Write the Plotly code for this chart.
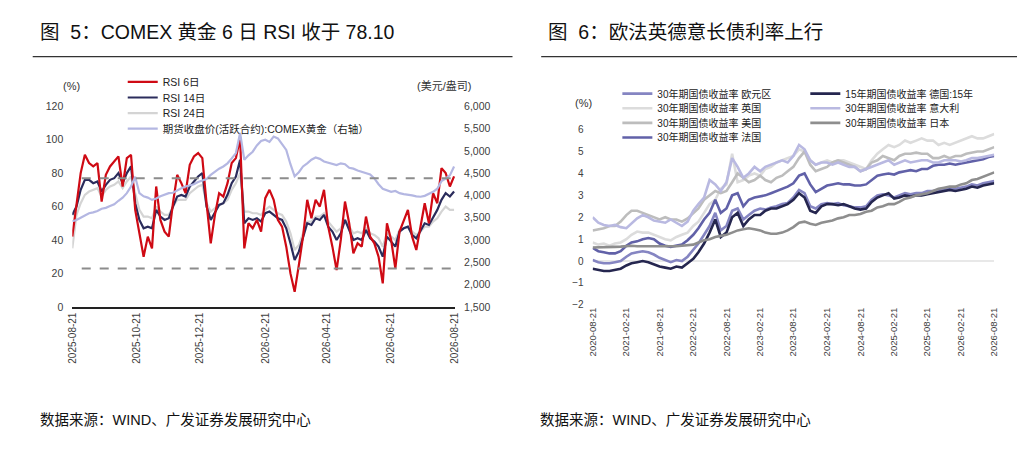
import pandas as pd
import plotly.graph_objects as go

FONT = "Liberation Sans, Arial, Noto Sans CJK SC, sans-serif"

# ---------------- Left chart data (figure 5) ----------------
rsi_dates = [d.strftime("%Y-%m-%d") for d in pd.date_range("2025-08-21", periods=92, freq="4D")]

rsi6 = [42, 62, 80, 91, 86, 84, 86, 63, 79, 84, 87, 90, 72, 89, 91, 58, 44, 30, 42, 35,
        72, 52, 45, 42, 62, 79, 74, 68, 85, 90, 92, 89, 62, 38, 55, 68, 66, 74, 86, 89,
        101, 35, 50, 47, 52, 45, 65, 70, 64, 52, 48, 36, 20, 9, 25, 42, 64, 53, 64, 60,
        70, 48, 36, 22, 40, 63, 50, 32, 38, 36, 54, 42, 38, 30, 14, 50, 40, 23, 45, 52,
        58, 42, 34, 48, 62, 50, 68, 62, 83, 80, 72, 78.1]

rsi14 = [55, 60, 70, 76, 76, 74, 75, 69, 73, 76, 77, 80, 74, 80, 84, 62, 52, 47, 48, 47,
         58, 54, 52, 53, 60, 66, 67, 66, 72, 75, 78, 80, 60, 52, 57, 61, 62, 67, 74, 78,
         88, 50, 53, 52, 53, 51, 56, 57, 55, 53, 52, 47, 38, 28, 33, 42, 50, 49, 53, 52,
         55, 48, 45, 40, 44, 52, 46, 40, 41, 40, 46, 41, 39, 36, 30, 42, 39, 36, 45, 47,
         48, 43, 41, 46, 50, 49, 54, 58, 64, 68, 66, 69]

rsi24 = [35, 55, 62, 67, 69, 70, 71, 66, 70, 72, 73, 75, 71, 75, 78, 68, 58, 54, 54, 53,
         60, 57, 55, 55, 60, 64, 64, 64, 68, 70, 72, 73, 62, 57, 59, 61, 62, 64, 70, 74,
         80, 57, 57, 56, 56, 55, 58, 60, 58, 56, 55, 51, 44, 34, 37, 44, 51, 51, 54, 54,
         56, 51, 48, 45, 47, 52, 48, 44, 45, 44, 47, 44, 43, 41, 36, 44, 42, 40, 46, 47,
         48, 45, 43, 45, 48, 48, 51, 53, 57, 60, 58, 58]

gold = [3420, 3450, 3500, 3560, 3600, 3620, 3650, 3700, 3720, 3760, 3800, 3880, 3950, 4050,
        4200, 4420, 4050, 3980, 3950, 3900, 3930, 3980, 4020, 4050, 4060, 4120, 4160, 4200,
        4230, 4250, 4300, 4330, 4370, 4460, 4540, 4600, 4650, 4720, 4830, 4950, 5400, 4800,
        4900, 4980, 5120, 5220, 5250, 5200, 5320, 5280, 5150, 5020, 4700, 4430, 4520, 4650,
        4720, 4800, 4850, 4820, 4760, 4730, 4700, 4680, 4720, 4700, 4620, 4600, 4560, 4530,
        4500, 4470, 4380, 4250, 4150, 4120, 4080, 4100, 4050, 4030, 4020, 4000, 3980, 3970,
        3990, 4030, 4080, 4150, 4320, 4380, 4450, 4650]

overbought = 77
oversold = 23
left_ticks = ["2025-08-21", "2025-10-21", "2025-12-21", "2026-02-21",
              "2026-04-21", "2026-06-21", "2026-08-21"]

# ---------------- Right chart data (figure 6) ----------------
bond_dates = [d.strftime("%Y-%m-%d") for d in
              pd.date_range("2020-08-21", periods=73, freq=pd.DateOffset(months=1))]

euro30 = [0.05, -0.05, -0.1, -0.1, -0.05, 0.0, 0.2, 0.35, 0.4, 0.45, 0.4, 0.3, 0.15, 0.05,
          -0.05, 0.05, 0.0, 0.2, 0.5, 0.8, 1.2, 1.6, 2.2, 1.4, 1.6, 2.3, 2.4, 1.9, 2.1, 2.3,
          2.4, 2.35, 2.45, 2.5, 2.6, 2.65, 2.9, 3.25, 3.1, 2.5, 2.4, 2.6, 2.65, 2.6, 2.65,
          2.55, 2.5, 2.45, 2.45, 2.5, 2.8, 3.0, 3.05, 3.0, 2.9, 3.0, 3.1, 3.05, 3.1, 3.1,
          3.2, 3.2, 3.25, 3.3, 3.35, 3.3, 3.35, 3.4, 3.5, 3.45, 3.55, 3.6, 3.65]

uk30 = [0.85, 0.75, 0.8, 0.7, 0.8, 0.85, 1.0, 1.2, 1.35, 1.3, 1.3, 1.2, 1.1, 1.0, 0.95,
        1.1, 1.2, 1.3, 1.6, 1.8, 2.2, 2.6, 2.8, 3.3, 3.5, 4.9, 3.6, 3.7, 3.9, 4.0, 3.9,
        4.2, 4.3, 4.5, 4.6, 4.7, 4.8, 5.1, 5.0, 4.6, 4.4, 4.5, 4.6, 4.5, 4.6, 4.6, 4.5,
        4.4, 4.3, 4.2, 4.6, 4.9, 5.1, 5.3, 5.2, 5.3, 5.5, 5.4, 5.5, 5.6, 5.5, 5.5, 5.3,
        5.4, 5.3, 5.4, 5.5, 5.6, 5.7, 5.6, 5.6, 5.7, 5.8]

us30 = [1.4, 1.45, 1.5, 1.6, 1.6, 1.8, 2.1, 2.3, 2.3, 2.2, 2.1, 2.0, 1.9, 2.0, 1.9, 1.9,
        1.8, 1.95, 2.2, 2.4, 2.8, 3.0, 3.2, 3.1, 3.2, 3.6, 4.0, 3.8, 3.6, 3.7, 3.9, 3.7,
        3.6, 3.8, 3.9, 4.1, 4.3, 4.7, 5.0, 4.4, 4.1, 4.2, 4.3, 4.5, 4.6, 4.5, 4.4, 4.3,
        4.1, 4.2, 4.5, 4.6, 4.8, 4.7, 4.6, 4.8, 4.9, 4.9, 4.95, 4.9, 4.9, 4.7, 4.7, 4.8,
        4.7, 4.8, 4.8, 4.9, 4.95, 5.0, 5.0, 5.1, 5.2]

fr30 = [0.6, 0.45, 0.4, 0.35, 0.35, 0.45, 0.7, 0.85, 0.9, 1.0, 1.05, 1.0, 0.8, 0.7, 0.65,
        0.7, 0.75, 0.95, 1.2, 1.5, 1.9, 2.2, 2.8, 2.2, 2.4, 3.0, 3.1, 2.5, 2.8, 2.9, 2.95,
        3.0, 3.1, 3.2, 3.3, 3.4, 3.55, 3.9, 4.0, 3.5, 3.15, 3.3, 3.45, 3.5, 3.55, 3.5, 3.5,
        3.45, 3.45, 3.5, 3.7, 3.9, 3.95, 4.0, 3.95, 4.05, 4.1, 4.15, 4.1, 4.2, 4.2, 4.35,
        4.4, 4.4, 4.45, 4.4, 4.45, 4.5, 4.55, 4.6, 4.65, 4.75, 4.8]

de15 = [-0.35, -0.4, -0.45, -0.45, -0.4, -0.35, -0.2, -0.1, -0.05, 0.0, -0.05, -0.15,
        -0.25, -0.3, -0.35, -0.25, -0.3, -0.1, 0.1, 0.4, 0.8, 1.3, 1.9, 1.1, 1.3, 2.0, 2.2,
        1.6, 1.9, 2.1, 2.1, 2.3, 2.4, 2.4, 2.5, 2.6, 2.8, 3.1, 2.9, 2.3, 2.2, 2.5, 2.6, 2.6,
        2.55, 2.6, 2.5, 2.4, 2.35, 2.4, 2.7, 2.9, 3.0, 3.1, 2.85, 2.9, 3.0, 2.95, 3.0, 3.0,
        3.05, 3.1, 3.15, 3.2, 3.25, 3.2, 3.25, 3.3, 3.4, 3.35, 3.45, 3.5, 3.55]

it30 = [2.0, 1.75, 1.65, 1.6, 1.65, 1.55, 1.5, 1.7, 1.95, 2.1, 2.0, 1.85, 1.8, 1.75, 1.9,
        1.75, 1.6, 1.8, 2.3, 2.6, 2.9, 3.7, 3.5, 3.2, 3.6, 4.7, 4.3, 3.8, 4.0, 4.3, 4.1,
        4.3, 4.4, 4.5, 4.6, 4.5, 4.8, 5.3, 5.1, 4.6, 4.4, 4.5, 4.5, 4.4, 4.5, 4.4, 4.3,
        4.3, 4.1, 4.2, 4.3, 4.4, 4.5, 4.6, 4.4, 4.5, 4.6, 4.5, 4.55, 4.6, 4.6, 4.5, 4.5,
        4.6, 4.6, 4.6, 4.55, 4.6, 4.7, 4.7, 4.75, 4.8, 4.85]

jp30 = [0.62, 0.62, 0.63, 0.65, 0.65, 0.66, 0.68, 0.7, 0.68, 0.68, 0.68, 0.67, 0.66, 0.66,
        0.67, 0.68, 0.7, 0.72, 0.75, 0.85, 0.95, 1.0, 1.1, 1.15, 1.2, 1.3, 1.4, 1.45, 1.5,
        1.45, 1.4, 1.3, 1.25, 1.25, 1.3, 1.4, 1.55, 1.75, 1.8, 1.7, 1.65, 1.75, 1.8, 1.85,
        1.95, 2.0, 2.1, 2.1, 2.15, 2.25, 2.3, 2.45, 2.5, 2.6, 2.6, 2.7, 2.85, 2.9, 3.0,
        3.05, 3.1, 3.2, 3.3, 3.35, 3.4, 3.4, 3.5, 3.55, 3.7, 3.75, 3.85, 3.95, 4.05]

right_ticks = ["2020-08-21", "2021-02-21", "2021-08-21", "2022-02-21", "2022-08-21",
               "2023-02-21", "2023-08-21", "2024-02-21", "2024-08-21", "2025-02-21",
               "2025-08-21", "2026-02-21", "2026-08-21"]

W, H = 1024, 454
def px(x):
    return x / W
def py(y):
    return 1 - y / H

fig = go.Figure()

# ---- left traces (each legend entry in its own single-item legend, placed like the reference) ----
left_specs = [
    ("期货收盘价(活跃合约):COMEX黄金（右轴）", gold, "#b4b7e2", "y2", 126),
    ("RSI 24日", rsi24, "#d4d4d4", "y", 110),
    ("RSI 14日", rsi14, "#2b2c5c", "y", 94),
    ("RSI 6日", rsi6, "#cf0a14", "y", 78),
]
legend_layout = {}
leg_i = 1
for name, vals, col, yax, ly in left_specs:
    key = "legend" if leg_i == 1 else f"legend{leg_i}"
    fig.add_trace(go.Scatter(x=rsi_dates, y=vals, name=name, mode="lines",
                             line=dict(color=col, width=2.2),
                             xaxis="x", yaxis=yax, legend=key))
    legend_layout[key] = dict(x=px(118), y=py(ly), xanchor="left", yanchor="middle",
                              bgcolor="rgba(0,0,0,0)", itemwidth=30,
                              font=dict(family=FONT, size=10.5, color="#222222"))
    leg_i += 1

# ---- right traces ----
bond_series = [
    ("30年期国债收益率 欧元区", euro30, "#8585c2", 618, 90),
    ("30年期国债收益率 英国", uk30, "#dcdcdc", 618, 105),
    ("30年期国债收益率 美国", us30, "#bdbdbd", 618, 120),
    ("30年期国债收益率 法国", fr30, "#6161a8", 618, 135),
    ("15年期国债收益率 德国:15年", de15, "#25264f", 808, 90),
    ("30年期国债收益率 意大利", it30, "#b9b9e1", 808, 105),
    ("30年期国债收益率 日本", jp30, "#8e8e8e", 808, 120),
]
for name, vals, col, lx, ly in bond_series:
    key = f"legend{leg_i}"
    fig.add_trace(go.Scatter(x=bond_dates, y=vals, name=name, mode="lines",
                             line=dict(color=col, width=2.6),
                             xaxis="x3", yaxis="y3", legend=key))
    legend_layout[key] = dict(x=px(lx), y=py(ly), xanchor="left", yanchor="middle",
                              bgcolor="rgba(0,0,0,0)", itemwidth=30,
                              font=dict(family=FONT, size=10, color="#222222"))
    leg_i += 1

# dashed reference lines (left)
for lvl in (overbought, oversold):
    fig.add_shape(type="line", xref="x", yref="y", x0="2025-08-30", x1="2026-08-17",
                  y0=lvl, y1=lvl, line=dict(color="#8c8c8c", width=2, dash="dash"))

tickfont = dict(family=FONT, size=10.5, color="#404040")

fig.update_layout(
    width=W, height=H,
    margin=dict(l=0, r=0, t=0, b=0),
    paper_bgcolor="white", plot_bgcolor="white",
    font=dict(family=FONT, color="#333333"),
    showlegend=True,
    xaxis=dict(domain=[px(67), px(454)], anchor="y", type="date",
               range=["2025-08-21", "2026-08-21"], tickvals=left_ticks, ticktext=left_ticks,
               tickangle=-90, showgrid=False, zeroline=False, showline=True,
               linecolor="#222222", linewidth=1.5, ticks="",
               tickfont=dict(family=FONT, size=10, color="#404040")),
    yaxis=dict(domain=[py(309), py(103)], anchor="x", range=[0, 120], dtick=20,
               showgrid=False, zeroline=False, showline=False, ticks="",
               tickfont=tickfont, ticklabelstandoff=8),
    yaxis2=dict(overlaying="y", anchor="x", side="right", range=[1500, 6000], dtick=500,
                tickformat=",", showgrid=False, zeroline=False, showline=False,
                ticks="", tickfont=tickfont, ticklabelstandoff=8),
    xaxis3=dict(domain=[px(593), px(999)], anchor="y3", type="date",
                range=["2020-08-21", "2026-08-21"], tickvals=right_ticks,
                ticktext=right_ticks, tickangle=-90, showgrid=False, zeroline=False,
                showline=False, ticks="",
                tickfont=dict(family=FONT, size=9.5, color="#404040")),
    yaxis3=dict(domain=[py(307), py(127)], anchor="x3", range=[-2, 6], dtick=1,
                showgrid=False, zeroline=True, zerolinecolor="#e8e8e8", zerolinewidth=2,
                showline=False, ticks="",
                tickfont=dict(family=FONT, size=10, color="#404040"),
                ticklabelstandoff=8),
    **legend_layout,
)

# titles, separators, units, sources
fig.add_annotation(text="图  5：COMEX 黄金 6 日 RSI 收于 78.10", xref="paper", yref="paper",
                   x=px(32), y=py(27), xanchor="left", yanchor="middle", showarrow=False,
                   font=dict(family=FONT, size=19.5, color="#111111"))
fig.add_annotation(text="图  6：欧法英德意长债利率上行", xref="paper", yref="paper",
                   x=px(546), y=py(27), xanchor="left", yanchor="middle", showarrow=False,
                   font=dict(family=FONT, size=19.5, color="#111111"))
fig.add_shape(type="line", xref="paper", yref="paper", x0=px(27), x1=px(512),
              y0=py(52), y1=py(52), line=dict(color="#333333", width=1.2))
fig.add_shape(type="line", xref="paper", yref="paper", x0=px(541), x1=px(1022),
              y0=py(52), y1=py(52), line=dict(color="#333333", width=1.2))
fig.add_annotation(text="(%)", xref="paper", yref="paper", x=px(66), y=py(82),
                   xanchor="center", yanchor="middle", showarrow=False,
                   font=dict(family=FONT, size=11, color="#333333"))
fig.add_annotation(text="(美元/盎司)", xref="paper", yref="paper", x=px(443), y=py(82),
                   xanchor="center", yanchor="middle", showarrow=False,
                   font=dict(family=FONT, size=11, color="#333333"))
fig.add_annotation(text="(%)", xref="paper", yref="paper", x=px(584), y=py(100),
                   xanchor="center", yanchor="middle", showarrow=False,
                   font=dict(family=FONT, size=11, color="#333333"))
for xs in (32, 538):
    fig.add_annotation(text="数据来源：WIND、广发证券发展研究中心", xref="paper", yref="paper",
                       x=px(xs), y=py(425), xanchor="left", yanchor="middle",
                       showarrow=False, font=dict(family=FONT, size=14.5, color="#111111"))

fig.write_html(
    "out.html",
    config={"displayModeBar": False},
    post_script="document.body.style.margin='0';document.body.style.padding='0';"
                "document.documentElement.style.overflow='hidden';",
)
